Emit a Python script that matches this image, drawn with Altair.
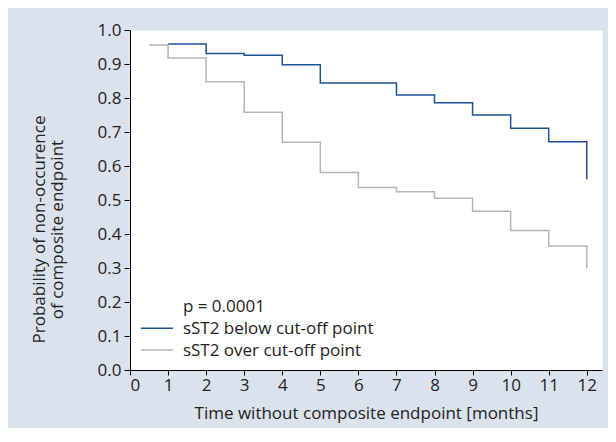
import altair as alt
import pandas as pd

# Kaplan-Meier style step data
below_t = [1, 2, 3, 4, 5, 7, 8, 9, 10, 11, 12]
below_s = [0.959, 0.931, 0.926, 0.898, 0.844, 0.809, 0.786, 0.750, 0.711, 0.671, 0.561]
over_t = [0.5, 1, 2, 3, 4, 5, 6, 7, 8, 9, 10, 11, 12]
over_s = [0.956, 0.918, 0.848, 0.758, 0.670, 0.581, 0.537, 0.524, 0.505, 0.467, 0.410, 0.365, 0.299]

series_names = ["sST2 below cut-off point", "sST2 over cut-off point"]
series_colors = ["#1d5296", "#b5b5b5"]

x_ticks = list(range(0, 13))
y_ticks = [0.0, 0.1, 0.2, 0.3, 0.4, 0.5, 0.6, 0.7, 0.8, 0.9, 1.0]

# in-plot legend block (data coordinates)
p_label = ["p = 0.0001"]
p_t = [1.39]
p_y = [0.189]
legend_t0 = [0.29, 0.29]
legend_t1 = [1.13, 1.13]
legend_text_t = [1.39, 1.39]
legend_y = [0.1226, 0.0588]

rows = []
for i, (t, s) in enumerate(zip(below_t, below_s)):
    rows.append({"t": t, "s": s, "group": series_names[0], "order": i})
for i, (t, s) in enumerate(zip(over_t, over_s)):
    rows.append({"t": t, "s": s, "group": series_names[1], "order": i})
df = pd.DataFrame(rows)

ann = pd.DataFrame({"t": p_t, "s": p_y, "label": p_label})
leg = pd.DataFrame({
    "t0": legend_t0, "t1": legend_t1, "tt": legend_text_t,
    "s": legend_y, "group": series_names,
})

font = "Open Sans"
fs = 17

x_scale = alt.Scale(domain=[0, 12.4], nice=False)
y_scale = alt.Scale(domain=[0, 1], nice=False)
color_scale = alt.Scale(domain=series_names, range=series_colors)

x_axis = alt.Axis(
    values=x_ticks, format="d", grid=False, title="Time without composite endpoint [months]",
    tickSize=5, labelPadding=2, titlePadding=12, labelOverlap=False,
)
y_axis = alt.Axis(
    values=y_ticks, format=".1f", grid=False,
    title=["Probability of non-occurence", "of composite endpoint"],
    tickSize=6, labelPadding=3, labelOverlap=False,
    titleAngle=-90, titleAlign="center", titleBaseline="middle",
    titleX=-91, titleY=199, titleLineHeight=18,
)

lines = alt.Chart(df).mark_line(interpolate="step-after", strokeWidth=1.5).encode(
    x=alt.X("t:Q", scale=x_scale, axis=x_axis),
    y=alt.Y("s:Q", scale=y_scale, axis=y_axis),
    order="order:Q",
    color=alt.Color("group:N", scale=color_scale, legend=None),
)

text = alt.Chart(ann).mark_text(
    align="left", baseline="middle", fontSize=fs, font=font, color="#222222", dy=1
).encode(
    x=alt.X("t:Q", scale=x_scale, axis=x_axis),
    y=alt.Y("s:Q", scale=y_scale, axis=y_axis),
    text="label:N",
)

leg_rules = alt.Chart(leg).mark_rule(strokeWidth=1.5).encode(
    x=alt.X("t0:Q", scale=x_scale, axis=x_axis),
    x2="t1:Q",
    y=alt.Y("s:Q", scale=y_scale, axis=y_axis),
    color=alt.Color("group:N", scale=color_scale, legend=None),
)

leg_text = alt.Chart(leg).mark_text(
    align="left", baseline="middle", fontSize=fs, font=font, color="#222222", dy=1
).encode(
    x=alt.X("tt:Q", scale=x_scale, axis=x_axis),
    y=alt.Y("s:Q", scale=y_scale, axis=y_axis),
    text="group:N",
)

chart = (
    alt.layer(lines, text, leg_rules, leg_text)
    .properties(
        width=472,
        height=340,
        background="#dae3ed",
        padding={"left": 122, "top": 22, "right": 6, "bottom": 58},
        autosize=alt.AutoSizeParams(type="none"),
    )
    .configure_view(fill="white", stroke="transparent")
    .configure_axis(
        domainColor="#000000", tickColor="#000000", domainWidth=1, tickWidth=1,
        labelFont=font, titleFont=font, labelFontSize=fs, titleFontSize=fs,
        labelColor="#222222", titleColor="#222222", titleFontWeight="normal",
    )
)

chart.save("out.html", embed_options={"renderer": "svg", "actions": False})
